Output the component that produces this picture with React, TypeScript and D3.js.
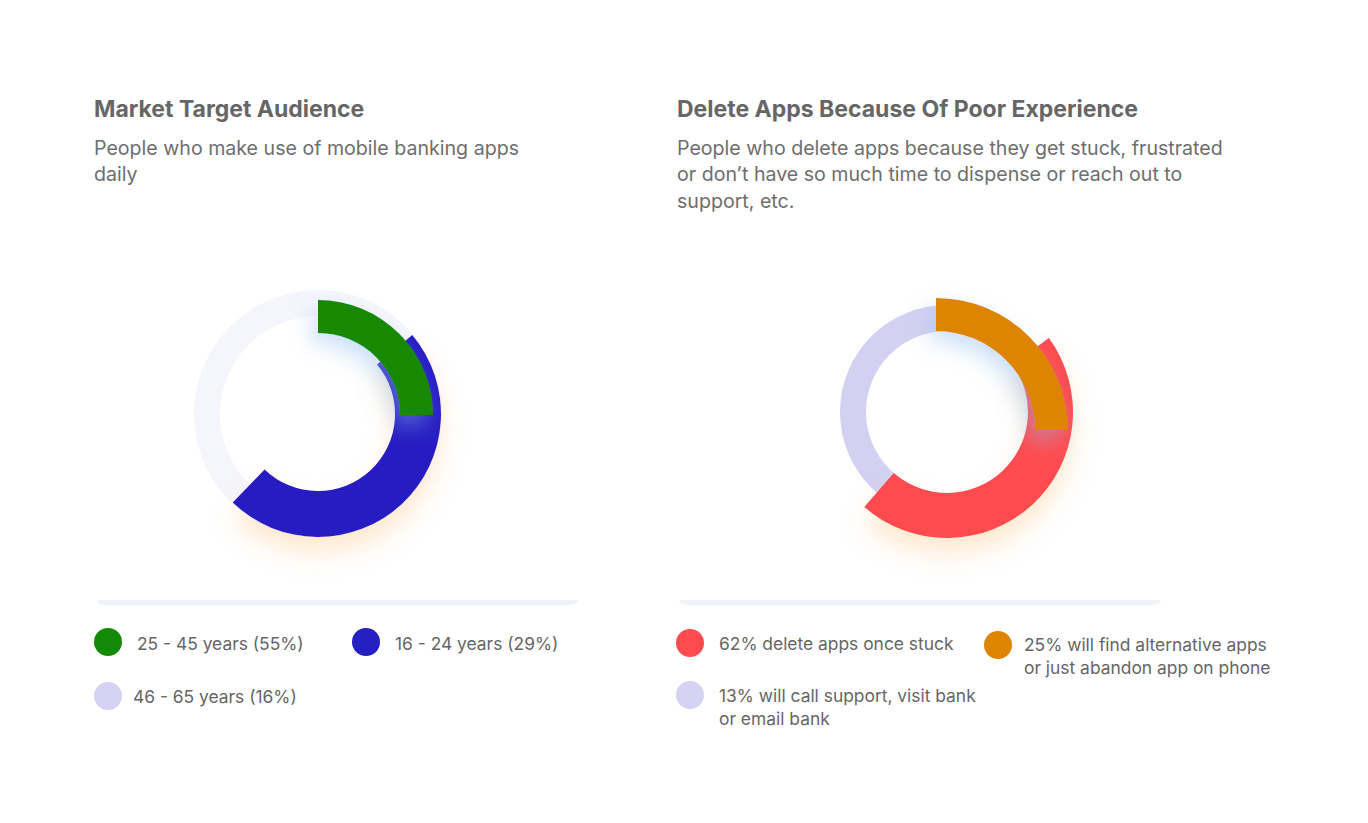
import React, { useRef, useEffect } from "react"
import * as d3 from "d3"

const W = 1368, H = 823

// ---- left panel data
const audienceTitle = "Market Target Audience"
const audienceSubtitle = ["People who make use of mobile banking apps", "daily"]
const audienceLabels = [["25 - 45 years (55%)"], ["16 - 24 years (29%)"], ["46 - 65 years (16%)"]]
const audienceDots = ["#148906", "#261fc2", "#d5d3f3"]
// ring layers, bottom first; extents in percent of the circle as drawn in the mockup
const audienceRingColors = ["#f5f6fc", "#261fc2", "#148906"]
const audienceRingStart = [0, 13.9, 0]
const audienceRingEnd = [100, 62.2, 25]

// ---- right panel data
const deleteTitle = "Delete Apps Because Of Poor Experience"
const deleteSubtitle = [
    "People who delete apps because they get stuck, frustrated",
    "or don\u2019t have so much time to dispense or reach out to",
    "support, etc.",
]
const deleteLabels = [
    ["62% delete apps once stuck"],
    ["25% will find alternative apps", "or just abandon app on phone"],
    ["13% will call support, visit bank", "or email bank"],
]
const deleteDots = ["#ff4b4f", "#dd8500", "#d5d3f3"]
const deleteRingColors = ["#d3d1f2", "#ff4b4f", "#dd8500"]
const deleteRingStart = [0, 15, 0]
const deleteRingEnd = [100, 61.4, 25]

// ---- layout (positions, sizes)
const leftLayout = {
    x: 94, cx: 318, cy: 414,
    rings: [
        { inner: 98, outer: 124, dx: 0, dy: 0, shadow: null },
        { inner: 77, outer: 123, dx: 0, dy: 0, shadow: "warm" },
        { inner: 82, outer: 115, dx: 0, dy: 1, shadow: "cool" },
    ],
    legend: [
        { cx: 108, cy: 642, tx: 137, ty: 650 },
        { cx: 366, cy: 642, tx: 395, ty: 650 },
        { cx: 108, cy: 696, tx: 133, ty: 703 },
    ],
    bar: [97, 578],
}
const rightLayout = {
    x: 677, cx: 947, cy: 412,
    rings: [
        { inner: 81, outer: 107, dx: 0, dy: 0, shadow: null },
        { inner: 81, outer: 126, dx: 0, dy: 0, shadow: "warm" },
        { inner: 99, outer: 132, dx: -11, dy: 18, shadow: "cool" },
    ],
    legend: [
        { cx: 690, cy: 643, tx: 719, ty: 650 },
        { cx: 998, cy: 645, tx: 1024, ty: 651 },
        { cx: 690, cy: 695, tx: 719, ty: 702 },
    ],
    bar: [679, 1161],
}

const panels = [
    { title: audienceTitle, sub: audienceSubtitle, labels: audienceLabels, dots: audienceDots,
      colors: audienceRingColors, start: audienceRingStart, end: audienceRingEnd, layout: leftLayout },
    { title: deleteTitle, sub: deleteSubtitle, labels: deleteLabels, dots: deleteDots,
      colors: deleteRingColors, start: deleteRingStart, end: deleteRingEnd, layout: rightLayout },
]

const font = "Inter, 'Noto Sans', sans-serif"

const Charts = () => {
    let element = useRef<SVGSVGElement>(null)

    useEffect(() => {
        let svg = d3.select(element.current)
        svg.selectAll("*").remove()

        let defs = svg.append("defs")
        defs.append("filter").attr("id", "warm")
            .attr("x", "-50%").attr("y", "-50%").attr("width", "200%").attr("height", "200%")
            .append("feDropShadow")
                .attr("dx", 0).attr("dy", 16).attr("stdDeviation", 12)
                .attr("flood-color", "#f9a84a").attr("flood-opacity", 0.25)
        defs.append("filter").attr("id", "cool")
            .attr("x", "-50%").attr("y", "-50%").attr("width", "200%").attr("height", "200%")
            .append("feDropShadow")
                .attr("dx", -6).attr("dy", 10).attr("stdDeviation", 11)
                .attr("flood-color", "#8dbbec").attr("flood-opacity", 0.45)

        let angle = d3.scaleLinear().domain([0, 100]).range([0, 2 * Math.PI])
        let arc = d3.arc<any>()

        panels.forEach(p => {
            let L = p.layout
            let g = svg.append("g")

            // bottom edge of the card
            let [x0, x1] = L.bar
            g.append("path")
                .attr("d", `M${x0},600 L${x1},600 Q${x1},605 ${x1 - 12},605.5 L${x0 + 12},605.5 Q${x0},605 ${x0},600 Z`)
                .attr("fill", "#eff3f9")

            g.append("text")
                .attr("x", L.x).attr("y", 117)
                .attr("font-family", font).attr("font-size", 23).attr("font-weight", 700)
                .attr("fill", "#666666")
                .text(p.title)

            g.selectAll(".sub").data(p.sub).enter().append("text")
                .attr("x", L.x).attr("y", (d, i) => 155 + i * 26.3)
                .attr("font-family", font).attr("font-size", 19.6)
                .attr("fill", "#6e6e6e")
                .text(d => d)

            let rings = p.colors.map((c, i) => ({
                color: c, start: p.start[i], end: p.end[i], ...L.rings[i],
            }))
            g.selectAll(".ring").data(rings).enter().append("path")
                .attr("transform", d => `translate(${L.cx + d.dx},${L.cy + d.dy})`)
                .attr("d", d => arc({
                    innerRadius: d.inner, outerRadius: d.outer,
                    startAngle: angle(d.start), endAngle: angle(d.end),
                }))
                .attr("fill", d => d.color)
                .attr("filter", d => d.shadow ? `url(#${d.shadow})` : null)

            let items = p.labels.map((lines, i) => ({ lines, color: p.dots[i], ...L.legend[i] }))
            let leg = g.selectAll(".leg").data(items).enter().append("g")
            leg.append("circle")
                .attr("cx", d => d.cx).attr("cy", d => d.cy).attr("r", 14)
                .attr("fill", d => d.color)
            leg.each(function (d) {
                d3.select(this).selectAll("text").data(d.lines).enter().append("text")
                    .attr("x", d.tx).attr("y", (t, i) => d.ty + i * 22.7)
                    .attr("font-family", font).attr("font-size", 17.4)
                    .attr("fill", "#666666")
                    .text(t => t)
            })
        })
    })

    return (
        <svg ref={element} width={W} height={H}
            style={{ position: "absolute", left: 0, top: 0, background: "#ffffff" }} />
    )
}

export default function App() {
    return <Charts />
}
